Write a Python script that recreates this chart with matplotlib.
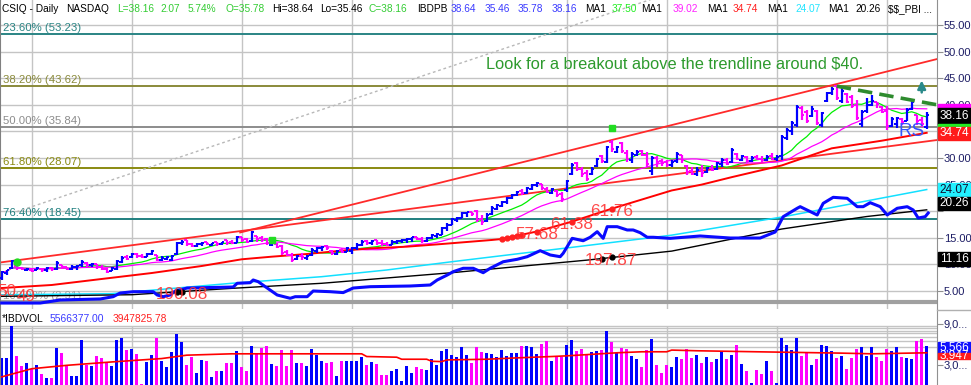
import matplotlib.pyplot as plt
import numpy as np
import pandas as pd
from matplotlib.patches import Rectangle

plt.rcParams['font.family'] = ['Liberation Sans', 'DejaVu Sans']
plt.rcParams['text.parse_math'] = False

# daily bars, CSIQ (price in $)
opens = [7.4, 8.4, 9.3, 9.7, 9.4, 8.9, 9.0, 8.9, 9.2, 8.9,
         9.3, 9.1, 9.8, 9.5, 9.1, 9.5, 9.8, 10.3, 9.8, 10.0,
         9.6, 9.2, 8.8, 9.2, 10.5, 11.4, 11.3, 12.0, 11.6, 11.4,
         11.9, 11.7, 10.8, 11.1, 10.9, 12.0, 14.1, 14.5, 13.9, 13.4,
         13.8, 14.2, 13.6, 14.2, 13.8, 14.5, 14.2, 14.1, 15.1, 14.7,
         14.4, 15.3, 15.0, 14.7, 13.7, 13.9, 13.4, 12.4, 11.8, 11.0,
         11.6, 11.2, 11.7, 12.6, 13.0, 13.5, 12.6, 12.0, 12.8, 12.4,
         12.5, 13.0, 13.6, 14.4, 14.0, 14.5, 14.1, 13.9, 13.7, 14.2,
         14.4, 14.5, 14.7, 15.1, 14.8, 14.4, 14.9, 15.4, 15.6, 16.8,
         17.5, 18.4, 18.8, 19.6, 19.8, 20.0, 18.5, 18.1, 19.4, 20.5,
         21.0, 21.7, 22.4, 23.0, 23.8, 23.4, 24.2, 25.0, 25.1, 24.2,
         23.5, 23.8, 23.2, 24.0, 27.0, 29.0, 28.0, 27.2, 26.9, 28.5,
         30.4, 29.3, 33.0, 31.2, 32.8, 31.0, 29.6, 30.6, 31.3, 30.5,
         27.5, 30.0, 29.5, 29.2, 28.6, 29.4, 30.5, 28.5, 27.6, 27.0,
         27.7, 27.4, 28.2, 27.9, 28.8, 29.6, 29.2, 30.8, 29.6, 30.2,
         29.5, 30.2, 29.9, 29.6, 30.4, 29.9, 30.3, 33.8, 35.0, 36.2,
         39.4, 38.6, 37.9, 38.8, 36.2, 40.8, 42.2, 43.5, 40.7, 42.0,
         41.5, 40.0, 36.3, 38.8, 40.0, 40.5, 39.5, 38.8, 36.1, 36.4,
         37.4, 37.0, 39.2, 38.0, 37.2, 35.78]
highs = [8.7, 9.0, 10.8, 9.8, 9.5, 9.3, 9.1, 9.5, 9.3, 9.5,
         9.5, 10.6, 9.9, 9.6, 9.8, 9.8, 10.8, 10.4, 10.3, 10.1,
         9.8, 9.3, 9.6, 10.9, 11.5, 11.8, 12.2, 12.1, 12.0, 12.1,
         12.8, 11.8, 11.5, 11.5, 11.8, 14.3, 14.5, 14.6, 14.1, 14.0,
         14.3, 14.3, 14.1, 14.3, 14.3, 14.6, 14.6, 15.4, 15.2, 14.9,
         16.3, 15.35, 15.35, 14.9, 14.6, 14.0, 13.7, 12.7, 12.1, 11.8,
         12.1, 11.8, 13.0, 13.2, 13.5, 13.7, 12.7, 12.7, 13.0, 13.2,
         13.2, 14.0, 14.6, 14.6, 14.6, 14.6, 14.5, 14.3, 14.5, 14.6,
         14.7, 14.9, 15.2, 15.2, 15.1, 15.1, 15.7, 15.9, 17.1, 17.7,
         18.7, 19.0, 19.9, 19.9, 19.9, 20.2, 19.3, 19.6, 20.9, 21.4,
         22.0, 22.7, 23.3, 23.8, 24.2, 24.6, 25.2, 25.5, 25.2, 24.5,
         24.4, 24.0, 23.7, 25.9, 29.0, 29.3, 28.4, 27.8, 28.4, 30.0,
         30.6, 32.2, 33.4, 32.2, 33.1, 31.5, 31.2, 31.5, 31.5, 31.2,
         30.3, 30.3, 29.9, 29.6, 29.6, 31.2, 30.6, 28.7, 28.4, 28.3,
         28.7, 28.4, 28.7, 29.3, 30.0, 30.0, 31.9, 30.9, 30.6, 30.3,
         30.3, 30.6, 30.3, 30.6, 30.9, 30.5, 34.4, 35.6, 36.9, 40.0,
         39.7, 39.0, 39.7, 39.0, 38.7, 42.5, 43.4, 43.7, 43.1, 42.2,
         41.9, 40.9, 39.0, 41.2, 41.9, 40.6, 39.7, 39.7, 37.8, 37.8,
         37.5, 39.4, 40.9, 38.1, 37.8, 38.64]
lows = [7.1, 8.1, 9.2, 9.0, 8.9, 8.7, 8.5, 8.9, 8.5, 8.5,
        8.7, 9.0, 9.1, 8.9, 8.9, 9.0, 9.5, 9.5, 9.5, 9.1,
        8.9, 8.3, 8.7, 9.0, 10.2, 10.9, 11.2, 11.2, 11.2, 11.4,
        11.8, 10.6, 10.6, 10.8, 10.6, 11.8, 13.7, 13.4, 13.2, 13.2,
        13.5, 13.7, 13.5, 13.5, 13.7, 13.7, 13.8, 14.0, 14.3, 14.1,
        14.3, 14.3, 14.3, 13.7, 13.5, 13.0, 11.8, 11.5, 10.5, 10.9,
        10.9, 10.9, 11.5, 12.2, 12.6, 12.7, 11.8, 11.8, 12.1, 12.3,
        12.0, 12.7, 13.4, 13.7, 13.7, 13.7, 13.5, 13.5, 13.6, 13.8,
        14.0, 14.1, 14.3, 14.5, 14.1, 14.3, 14.7, 14.9, 15.5, 16.2,
        17.4, 18.0, 18.7, 19.0, 19.1, 18.0, 17.4, 18.0, 19.3, 20.2,
        20.8, 21.4, 22.2, 22.8, 23.0, 23.2, 24.0, 24.5, 24.0, 23.4,
        23.2, 22.6, 21.8, 23.7, 26.8, 27.5, 26.5, 25.6, 26.8, 28.4,
        29.0, 29.0, 31.2, 30.9, 30.9, 29.3, 29.0, 30.3, 30.3, 28.4,
        26.8, 28.4, 28.5, 28.4, 28.4, 29.0, 29.0, 26.8, 26.8, 26.7,
        26.5, 27.2, 27.5, 27.8, 28.4, 28.6, 29.0, 29.7, 29.4, 29.0,
        29.3, 29.6, 29.3, 29.5, 29.7, 29.5, 29.7, 33.4, 34.4, 35.9,
        37.2, 36.5, 37.8, 36.2, 35.9, 40.6, 41.9, 40.9, 40.3, 40.3,
        39.4, 37.2, 35.9, 38.4, 39.7, 39.4, 38.4, 35.3, 35.9, 35.6,
        36.2, 36.9, 39.0, 36.2, 35.9, 35.46]
closes = [8.5, 8.9, 10.6, 9.4, 9.1, 9.2, 8.8, 9.3, 8.9, 9.3,
          9.1, 10.3, 9.5, 9.2, 9.6, 9.7, 10.5, 9.9, 10.1, 9.5,
          9.2, 8.6, 9.4, 10.6, 11.2, 11.1, 12.0, 11.5, 11.3, 11.9,
          12.6, 10.9, 11.2, 11.4, 11.6, 14.0, 14.3, 13.9, 13.5, 13.8,
          14.1, 13.9, 14.0, 13.8, 14.2, 14.0, 13.95, 15.1, 14.6, 14.3,
          16.0, 14.8, 14.6, 14.0, 14.3, 13.3, 12.2, 11.8, 10.9, 11.5,
          11.3, 11.6, 12.7, 13.0, 13.3, 13.0, 12.1, 12.5, 12.3, 13.0,
          13.1, 13.7, 14.3, 14.0, 14.4, 14.0, 13.8, 13.6, 14.2, 14.4,
          14.6, 14.8, 15.1, 14.8, 14.4, 14.9, 15.5, 15.7, 16.9, 17.5,
          18.5, 18.8, 19.7, 19.8, 19.4, 18.4, 17.9, 19.3, 20.6, 21.1,
          21.8, 22.4, 23.0, 23.6, 23.4, 24.3, 25.0, 25.3, 24.3, 23.6,
          24.1, 23.0, 22.2, 25.6, 28.7, 28.0, 27.0, 26.0, 28.0, 29.8,
          29.4, 32.0, 31.6, 32.0, 31.3, 29.8, 30.8, 31.2, 30.6, 28.9,
          30.0, 29.3, 29.0, 28.7, 29.3, 30.8, 29.6, 27.3, 27.0, 27.8,
          27.2, 28.1, 27.8, 29.0, 29.7, 28.9, 31.5, 29.9, 30.3, 29.5,
          30.0, 29.8, 29.6, 30.2, 29.9, 30.1, 34.0, 35.2, 36.5, 39.6,
          38.0, 37.0, 39.2, 36.6, 38.5, 42.2, 43.0, 41.3, 42.6, 40.6,
          39.8, 37.6, 38.7, 40.0, 40.8, 40.2, 38.7, 36.0, 37.3, 37.6,
          36.8, 39.0, 40.5, 37.0, 36.3, 38.16]
# volume, millions of shares
volume = [4.0, 4.0, 8.7, 4.3, 2.8, 3.3, 2.3, 2.95, 1.6, 1.1,
          1.1, 5.5, 4.7, 2.95, 1.4, 1.4, 6.7, 2.95, 2.8, 4.3,
          4.0, 3.4, 2.8, 6.6, 7.0, 5.1, 5.3, 4.6, 0.15, 3.4,
          4.4, 7.0, 3.5, 2.7, 4.8, 7.5, 6.3, 2.95, 4.2, 1.8,
          3.7, 3.5, 1.2, 2.0, 2.0, 3.3, 3.3, 5.0, 2.7, 2.0,
          5.75, 4.7, 5.4, 5.75, 3.1, 2.8, 5.1, 2.8, 5.1, 3.3,
          3.3, 2.8, 5.3, 4.4, 3.5, 3.3, 3.4, 1.3, 3.5, 3.5,
          3.5, 3.5, 4.1, 2.95, 3.4, 3.1, 1.5, 1.5, 2.0, 2.4,
          0.6, 2.8, 1.8, 2.6, 2.4, 2.2, 3.8, 2.95, 5.0, 5.3,
          4.4, 4.1, 5.6, 4.4, 3.2, 5.6, 4.9, 4.7, 4.6, 4.1,
          5.2, 4.3, 4.7, 4.7, 5.75, 5.75, 5.6, 4.6, 6.05, 6.5,
          3.5, 4.3, 4.1, 5.9, 6.6, 5.0, 5.3, 4.6, 4.9, 5.0,
          5.2, 8.0, 6.4, 4.7, 5.5, 5.3, 4.3, 3.8, 2.7, 5.2,
          6.8, 2.95, 1.8, 2.95, 2.7, 4.2, 3.8, 5.3, 4.0, 4.4,
          3.2, 4.1, 3.4, 3.8, 5.0, 3.8, 4.4, 5.9, 3.1, 2.0,
          0.3, 2.2, 1.6, 3.5, 2.1, 0.3, 6.9, 5.9, 5.2, 7.0,
          4.3, 4.9, 2.95, 3.8, 5.9, 5.75, 5.0, 4.0, 4.3, 2.4,
          4.0, 5.3, 5.6, 4.3, 5.6, 4.1, 3.5, 5.3, 5.0, 5.6,
          4.1, 4.0, 3.8, 6.5, 6.8, 5.8]

# 50-day moving average (red), read at some bars
ma50_idx = [0, 10, 20, 30, 40, 48, 54, 61, 68, 74, 81, 88, 98, 100,
            107, 114, 122, 134, 140, 146, 156, 166, 176, 185]
ma50_val = [5.56, 6.13, 7.26, 8.38, 9.70, 10.96, 11.45, 11.95, 12.58, 13.03,
            13.33, 13.83, 14.59, 14.77, 16.18, 18.03, 20.47, 23.9, 25.0, 26.4,
            28.6, 31.82, 33.25, 34.74]
# relative strength line (blue) and its averages (cyan, black)
rs_idx = [0, 7.7, 11.7, 19.7, 22.3, 23.7, 26.3, 30.3, 31.1, 32.3,
          33.7, 34.7, 37.1, 46.3, 47.1, 49.7, 50.3, 51.3, 53.1, 55.1,
          57.7, 58.7, 61.1, 62.3, 65.7, 68.3, 70.3, 73.7, 81.7, 85.7,
          87.1, 89.1, 90.3, 92.3, 94.3, 96.3, 97.7, 100.3, 103.1, 105.1,
          107.7, 109.7, 111.7, 112.3, 114.1, 116.3, 117.7, 119.1, 120.3, 121.1,
          123.1, 125.1, 126.3, 127.7, 129.1, 130.3, 133.7, 139.7, 145.7, 151.7,
          154.7, 156.3, 159.1, 159.7, 163.1, 164.3, 166.3, 169.1, 171.1, 172.3,
          173.7, 175.7, 177.1, 179.1, 181.1, 182.3, 183.3, 184.7, 185.3]
rs_val = [2.74, 2.74, 3.31, 3.50, 3.93, 4.62, 4.87, 4.87, 4.25, 3.93,
          4.25, 5.0, 5.56, 5.75, 6.45, 6.56, 7.07, 6.75, 5.56, 4.25,
          3.63, 3.93, 3.93, 5.0, 4.87, 4.70, 5.56, 5.81, 5.94, 6.13,
          7.07, 8.0, 8.63, 9.27, 9.27, 8.44, 9.27, 10.5, 10.96, 11.45,
          12.58, 11.77, 11.45, 12.09, 14.9, 14.45, 15.1, 16.15, 14.9, 17.09,
          17.09, 16.47, 16.47, 15.96, 15.1, 15.1, 14.9, 15.34, 14.96, 14.96,
          16.09, 18.97, 20.55, 20.85, 19.29, 21.48, 22.61, 22.42, 20.85, 20.85,
          21.6, 20.85, 19.29, 20.55, 20.85, 20.23, 18.72, 18.97, 19.66]
rs_ma1_idx = [0, 22, 46, 64, 77, 90, 104, 114, 134, 156, 185]
rs_ma1_val = [4.29, 4.5, 6.45, 7.69, 8.95, 10.5, 12.09, 13.2, 15.5, 18.9, 24.07]
rs_ma2_idx = [0, 26, 46, 64, 90, 117, 134, 156, 173, 185]
rs_ma2_val = [4.0, 4.3, 5.5, 6.45, 8.44, 10.8, 12.5, 16.65, 19.0, 20.26]
# 50-day average volume (red, lower panel)
vol_ma_idx = [0, 6, 13, 22, 32, 37, 46, 72, 73, 79, 80, 85, 86, 88, 89, 97,
              103, 110, 113, 123, 128, 133, 134, 139, 151, 168, 174, 185]
vol_ma_val = [1.2, 2.4, 2.9, 3.4, 3.9, 4.4, 4.6, 4.6, 4.2, 4.1, 3.8, 3.8, 3.5,
              3.45, 3.7, 3.8, 4.0, 4.2, 4.3, 4.75, 4.9, 4.9, 5.15, 5.05, 4.9,
              4.7, 4.6, 4.75]

fib_pct = ['23.60%', '38.20%', '50.00%', '61.80%', '76.40%', '100.00%']
fib_val = [53.23, 43.62, 35.84, 28.07, 18.45, 2.91]
month_idx = [6, 26, 48, 70, 90, 113, 133, 155, 177]

W, H = 971, 385
def fx(p):
    return p / W
def fy(p):
    return 1 - p / H

fig = plt.figure(figsize=(W / 100, H / 100), dpi=100)
ax = fig.add_axes([0, fy(309), fx(937), 309 / H])
axv = fig.add_axes([0, 0, fx(937), 76 / H])

x = np.arange(len(closes))
xlim = (-0.34, 187.06)
ax.set_xlim(*xlim)
ax.set_ylim(1.617, 59.70)
axv.set_xlim(*xlim)
axv.set_ylim(0, 11.21)

for a in (ax, axv):
    for s in ('top', 'bottom'):
        a.spines[s].set_visible(False)
    a.spines['left'].set_color('#808080')
    a.spines['right'].set_color('#909090')
    a.set_xticks(month_idx)
    a.tick_params(axis='x', length=0, labelbottom=False)
    a.yaxis.tick_right()
    a.tick_params(axis='y', length=4, color='#909090', labelcolor='#1c1c64',
                  labelsize=8, pad=1)
    a.set_axisbelow(True)

yt = np.arange(5, 56, 5)
ax.set_yticks(yt)
# 35 and 20 sit fully under the value boxes
ax.set_yticklabels(['' if v in (20, 35) else f'{v:.2f}' for v in yt])
ax.grid(color='#c4c4c4', lw=1)

# fibonacci levels
fib_col = ['#2a8484', '#8a8a3a', '#8c8c8c', '#8a8a10', '#1f7f7f', '#a0a0a0']
for pct, val, c in zip(fib_pct, fib_val, fib_col):
    ax.axhline(val, color=c, lw=3 if pct == '100.00%' else 1.4, zorder=1)
    ax.annotate(f'{pct} ({val:.2f})', xy=(0, val), xycoords=('axes fraction', 'data'),
                xytext=(3, 1), textcoords='offset pixels', va='bottom', ha='left',
                color=c, fontsize=8.2, zorder=1)

# trend lines
ax.plot([3, 140], [19.9, 63.0], color='#b8b8b8', lw=1, ls=(0, (2, 2)), zorder=1)
ax.plot([-0.34, 187.06], [10.36, 33.38], color='#ff2a2a', lw=1.3, zorder=2)
ax.plot([47.7, 187.06], [16.0, 48.6], color='#ff2a2a', lw=1.3, zorder=2)
ax.plot([167, 187.06], [43.5, 40.0], color='#2e8b2e', lw=2.6, ls=(0, (4, 2)), zorder=5)

# relative strength line and its averages
ax.plot(rs_ma1_idx, rs_ma1_val, color='#12e0ff', lw=1.1, zorder=2)
ax.plot(rs_ma2_idx, rs_ma2_val, color='black', lw=1.0, zorder=2)
ax.plot(rs_idx, rs_val, color='#0a0aff', lw=2.2, zorder=3)

# moving averages of price
s = pd.Series(closes)
ax.plot(x, s.rolling(10, min_periods=1).mean(), color='#00ee00', lw=0.9, zorder=3)
ax.plot(x, s.rolling(21, min_periods=1).mean(), color='#ff00ff', lw=0.9, zorder=3)
ax.plot(ma50_idx, ma50_val, color='#ff0000', lw=1.4, zorder=3)

# price bars
up = np.r_[True, np.diff(closes) >= 0]
cols = np.where(up, '#0000ff', '#ff00ff')
ax.vlines(x, lows, highs, colors=cols, lw=1.6, zorder=4)
ax.hlines(opens, x - 0.45, x, colors=cols, lw=1.4, zorder=4)
ax.hlines(closes, x, x + 0.45, colors=cols, lw=1.4, zorder=4)

# signal markers
ax.plot([3.1], [10.45], 'o', color='#22dd22', ms=5, zorder=5)
ax.plot([54, 122], [14.59, 35.64], 's', color='#22dd22', ms=5, zorder=5)

# value tags on the averages
red_pts = [100, 101, 102, 103, 104, 107, 114, 122]
ax.plot(red_pts, np.interp(red_pts, ma50_idx, ma50_val), 'o', color='#ff2020',
        ms=3.5, zorder=5)
blk_pts = [35, 36, 120, 122]
ax.plot(blk_pts, np.interp(blk_pts, rs_ma2_idx, rs_ma2_val), 'o', color='black',
        ms=3.5, zorder=5)
tags = [('57.68', 107, ma50_idx, ma50_val), ('61.38', 114, ma50_idx, ma50_val),
        ('61.76', 122, ma50_idx, ma50_val), ('197.87', 121.9, rs_ma2_idx, rs_ma2_val),
        ('190.08', 36, rs_ma2_idx, rs_ma2_val)]
for txt, i, xi, yi in tags:
    ax.annotate(txt, xy=(i, np.interp(i, xi, yi)), xytext=(0, -3),
                textcoords='offset pixels', ha='center', va='center',
                color='#ff3535', fontsize=12.3, alpha=0.9, zorder=6)
ax.text(1.1, 5.0, '50', color='#ff3535', fontsize=12.3, ha='center',
        va='center', alpha=0.9, zorder=6)
ax.text(4.9, 4.06, '49', color='#ff3535', fontsize=12.3, ha='center',
        va='center', alpha=0.9, zorder=6)

ax.text(96.9, 47.67, 'Look for a breakout above the trendline around $40.',
        color='#2d9a2d', fontsize=11.8, ha='left', va='center', zorder=6)
ax.annotate('', xy=(184, 45.1), xytext=(184, 41.8),
            arrowprops=dict(arrowstyle='-|>', color='#2a8a8a', lw=1.8,
                            mutation_scale=12), zorder=6)
ax.text(182.0, 35.0, 'RS', color='#3355ff', fontsize=13.5, ha='center', va='center',
        zorder=6)

# volume panel
axv.bar(x, volume, width=0.5, color=cols, zorder=2)
axv.plot(vol_ma_idx, vol_ma_val, color='#ff0000', lw=1.2, zorder=3)
for v in [8.75, 8.36, 8.01, 7.63, 7.04, 6.53, 5.56]:
    axv.axhline(v, color='#c4c4c4', lw=1, zorder=0)
axv.vlines(month_idx, 0, 8.75, color='#c4c4c4', lw=1, zorder=0)
axv.set_yticks([9.0, 6.0, 3.0])
axv.set_yticklabels(['9,0...', '', '3,0...'])

# header
green, blue = '#33cc33', '#3a3aff'
header = [('CSIQ - Daily', 2, 'black'), ('NASDAQ', 66, 'black'),
          ('L=38.16', 117, green), ('2.07', 160, green), ('5.74%', 188, green),
          ('O=35.78', 225, green), ('Hi=38.64', 272, 'black'),
          ('Lo=35.46', 320, 'black'), ('C=38.16', 368, green), ('IBDPB', 417, 'black'),
          ('38.64', 451, blue), ('35.46', 485, blue), ('35.78', 518, blue),
          ('38.16', 552, blue), ('MA1', 585, 'black'), ('37.50', 612, '#22ee22'),
          ('MA1', 641, 'black'), ('39.02', 673, '#ff22ff'), ('MA1', 707, 'black'),
          ('34.74', 733, '#ff2020'), ('MA1', 767, 'black'), ('24.07', 795, '#22e5ff'),
          ('MA1', 828, 'black'), ('20.26', 855, 'black'), ('$$_PBI ...', 888, 'black')]
for txt, px, c in header:
    fig.text(fx(px), fy(9), txt, color=c, fontsize=7.3, ha='left', va='center')
for txt, px, c in [('*IBDVOL', 2, 'black'), ('5566377.00', 50, blue),
                   ('3947825.78', 113, '#ff2020')]:
    fig.text(fx(px), fy(319), txt, color=c, fontsize=7.4, ha='left', va='center')

# value boxes on the right axis
boxes = [(104.3, 108.3, '#ff00ff', '', 'white'),
         (108.3, 123.5, 'black', '38.16', 'white'),
         (123.5, 126.5, '#22ee22', '', 'white'),
         (126.5, 140.0, '#ff1a1a', '34.74', 'white'),
         (182.7, 196.5, '#22f0ff', '24.07', '#101030'),
         (196.5, 209.5, 'black', '20.26', 'white'),
         (252.3, 265.7, 'black', '11.16', 'white'),
         (341.7, 352.7, '#1010ff', '5,566', 'white'),
         (352.7, 359.3, '#ff1a1a', '3,947', 'white')]
for y0, y1, fc, txt, tc in boxes:
    fig.add_artist(Rectangle((fx(938), fy(y1)), fx(33), (y1 - y0) / H,
                             transform=fig.transFigure, color=fc, zorder=5))
    if txt:
        fig.text(fx(954), fy((y0 + y1) / 2), txt, color=tc, fontsize=8.5,
                 ha='center', va='center', zorder=6)
fig.add_artist(plt.Line2D([fx(937), 1], [fy(310), fy(310)], color='#b0b0b0',
                          lw=1, transform=fig.transFigure))

fig.savefig('out.png', dpi=100)
